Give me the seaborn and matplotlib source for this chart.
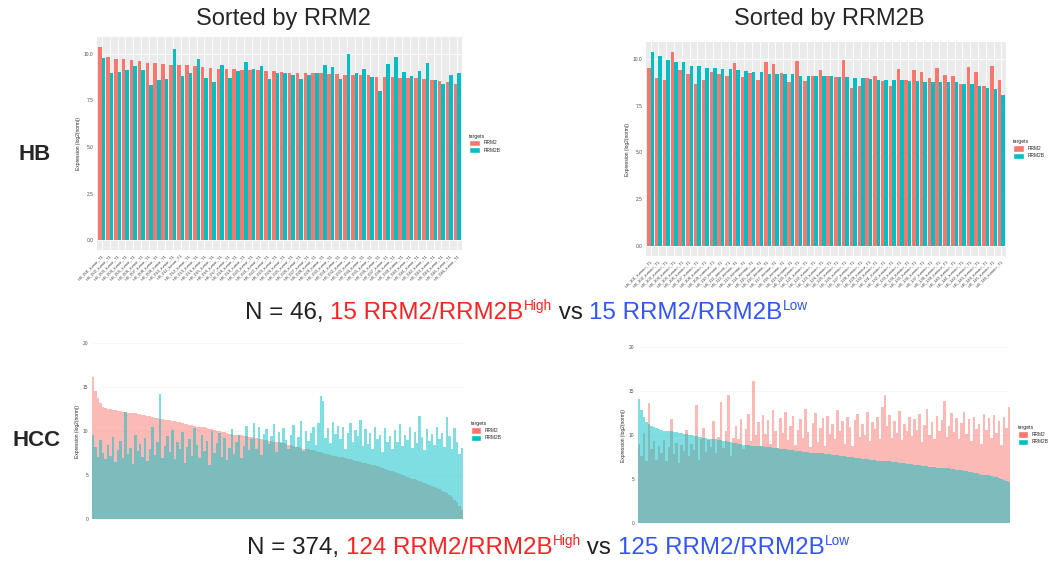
import matplotlib
matplotlib.use('Agg')
import numpy as np
import pandas as pd
import seaborn as sns
from matplotlib import pyplot as plt
from matplotlib.patches import Patch

sns.set_style('white')
plt.rcParams['font.family'] = ['Liberation Sans', 'DejaVu Sans']

W, H = 1053, 565
RED = '#F8766D'
TEAL = '#00BFC4'
TXT_RED = '#FF2222'
TXT_BLUE = '#3355FF'

targets = ['RRM2', 'RRM2B']
hb_ticks = [0, 2.5, 5, 7.5, 10]
hb_ticklabels = ['0.0', '2.5', '5.0', '7.5', '10.0']
hcc_ticks = [0, 5, 10, 15, 20]
hcc_ticklabels = ['0', '5', '10', '15', '20']

# HB cohort (n = 46), sorted by RRM2
hb_samples_a = ['HB_%03d_tumor_T1' % i for i in range(1, 47)]
hb_rrm2_a = [10.37, 9.80, 9.73, 9.70, 9.66, 9.59, 9.49, 9.49, 9.45, 9.41,
             9.38, 9.38, 9.34, 9.27, 9.24, 9.18, 9.17, 9.17, 9.10, 9.10,
             9.10, 9.06, 9.06, 9.02, 8.97, 8.97, 8.95, 8.95, 8.95, 8.92,
             8.90, 8.87, 8.85, 8.85, 8.83, 8.76, 8.76, 8.74, 8.72, 8.69,
             8.67, 8.63, 8.56, 8.53, 8.47, 8.39]
hb_rrm2b_a = [9.77, 8.95, 9.02, 9.13, 9.31, 9.13, 8.33, 8.56, 8.65, 10.25,
              8.78, 8.97, 9.70, 8.69, 8.46, 9.38, 8.69, 9.06, 9.56, 9.17,
              9.34, 8.63, 8.97, 8.97, 8.85, 8.62, 8.87, 8.95, 9.38, 9.29,
              8.65, 10.00, 8.97, 9.17, 8.76, 8.00, 9.45, 9.84, 9.02, 8.81,
              9.08, 9.52, 8.56, 8.39, 8.87, 8.97]

# HB cohort, sorted by RRM2B
hb_samples_b = ['HB_%03d_tumour_T1' % i for i in range(101, 147)]
hb_rrm2_b = [9.50, 8.95, 8.84, 10.37, 9.39, 9.20, 8.67, 8.88, 9.27, 9.20,
             9.06, 9.77, 9.02, 9.23, 8.88, 9.80, 9.70, 9.23, 8.77, 9.86,
             8.79, 9.09, 9.41, 9.06, 9.02, 9.91, 8.45, 8.52, 8.95, 9.09,
             8.79, 8.52, 9.45, 8.88, 9.38, 9.27, 8.95, 9.50, 9.15, 9.06,
             8.67, 9.56, 9.31, 8.56, 9.59, 8.84]
hb_rrm2b_b = [10.36, 10.16, 9.95, 9.84, 9.80, 9.63, 9.59, 9.48, 9.48, 9.45,
              9.45, 9.38, 9.34, 9.27, 9.27, 9.20, 9.20, 9.16, 9.16, 9.09,
              9.09, 9.09, 9.06, 9.06, 9.02, 9.02, 8.99, 8.95, 8.91, 8.88,
              8.88, 8.84, 8.84, 8.81, 8.81, 8.77, 8.77, 8.77, 8.74, 8.74,
              8.67, 8.63, 8.56, 8.43, 8.38, 8.06]

# HCC cohort (every ~2.5th sample), sorted by RRM2
hcc_rrm2_a = [16.1, 14.6, 13.8, 13.2, 12.7, 12.6, 12.5, 12.5, 12.4, 12.4,
              12.3, 12.3, 12.2, 12.2, 12.1, 12.1, 12.0, 12.0, 11.9, 11.9,
              11.8, 11.8, 11.7, 11.7, 11.6, 11.5, 11.5, 11.4, 11.4, 11.3,
              11.3, 11.2, 11.1, 11.1, 11.0, 11.0, 10.9, 10.8, 10.8, 10.7,
              10.7, 10.6, 10.5, 10.5, 10.4, 10.4, 10.3, 10.2, 10.2, 10.1,
              10.0, 10.0, 9.9, 9.9, 9.8, 9.7, 9.7, 9.6, 9.6, 9.5,
              9.5, 9.4, 9.4, 9.3, 9.3, 9.2, 9.2, 9.1, 9.1, 9.0,
              9.0, 8.9, 8.9, 8.8, 8.7, 8.7, 8.6, 8.6, 8.5, 8.4,
              8.4, 8.3, 8.2, 8.2, 8.1, 8.0, 8.0, 7.9, 7.8, 7.8,
              7.7, 7.6, 7.6, 7.5, 7.4, 7.4, 7.3, 7.2, 7.2, 7.1,
              7.0, 7.0, 6.9, 6.8, 6.8, 6.7, 6.6, 6.6, 6.5, 6.4,
              6.4, 6.3, 6.2, 6.1, 6.1, 6.0, 5.9, 5.8, 5.7, 5.6,
              5.5, 5.4, 5.3, 5.2, 5.1, 5.0, 4.9, 4.8, 4.7, 4.6,
              4.5, 4.4, 4.3, 4.2, 4.1, 4.0, 3.9, 3.8, 3.6, 3.5,
              3.4, 3.2, 3.1, 2.9, 2.7, 2.5, 2.2, 1.9, 1.5, 1.0]
hcc_rrm2b_a = [9.5, 8.2, 7.0, 9.0, 7.5, 6.8, 8.4, 7.2, 9.3, 6.5,
               7.8, 8.9, 6.9, 12.2, 7.4, 8.1, 6.2, 9.6, 7.7, 8.5,
               7.1, 9.2, 6.6, 8.0, 10.4, 7.3, 8.8, 14.2, 6.9, 8.3,
               9.4, 7.6, 10.1, 6.8, 8.7, 7.9, 9.9, 6.4, 8.2, 9.1,
               7.2, 10.3, 8.4, 6.9, 9.6, 7.7, 8.9, 6.1, 10.0, 7.5,
               8.6, 9.8, 7.0, 9.2, 6.7, 8.1, 10.2, 7.4, 8.8, 9.5,
               6.9, 8.3, 10.6, 7.8, 9.1, 10.9, 8.0, 10.4, 7.3, 9.7,
               10.2, 8.5, 9.4, 10.8, 7.6, 9.9, 8.8, 10.3, 9.0, 7.9,
               9.6, 10.7, 8.2, 9.3, 11.1, 7.7, 10.0, 8.9, 9.8, 10.5,
               8.4, 10.9, 14.0, 13.4, 9.2, 10.3, 8.6, 11.0, 9.7, 10.6,
               9.1, 10.4, 7.9, 9.8, 10.9, 8.7, 10.1, 9.4, 11.2, 8.3,
               10.2, 8.5, 9.8, 8.0, 10.5, 9.1, 9.5, 7.6, 10.3, 8.8,
               9.4, 7.9, 10.1, 8.7, 10.8, 8.3, 9.6, 9.0, 10.4, 8.1,
               9.9, 8.6, 11.7, 9.3, 7.8, 10.2, 8.9, 9.7, 8.4, 10.5,
               9.1, 9.8, 8.2, 11.6, 9.4, 8.0, 10.3, 8.7, 7.4, 8.1]

# HCC cohort, sorted by RRM2B
hcc_rrm2_b = [9.0, 7.6, 10.2, 7.1, 13.6, 8.4, 9.3, 7.2, 8.8, 7.9,
              9.4, 7.0, 8.6, 11.8, 7.8, 9.1, 6.8, 8.9, 8.2, 10.6,
              7.6, 9.0, 8.3, 13.4, 7.2, 9.6, 10.8, 8.1, 9.4, 8.6,
              11.6, 7.9, 9.8, 13.7, 8.5, 10.4, 14.5, 7.6, 9.7, 11.0,
              9.6, 11.8, 8.4, 10.7, 12.4, 9.3, 16.1, 10.0, 11.5, 8.7,
              12.3, 10.1, 11.7, 9.0, 12.8, 10.5, 8.5, 11.9, 10.2, 12.6,
              9.4, 11.0, 12.2, 8.9, 10.6, 11.8, 9.7, 12.9, 10.3, 8.6,
              11.4, 12.5, 9.2, 10.8, 11.9, 8.8, 12.2, 10.1, 11.3, 9.5,
              12.8, 10.4, 11.6, 9.0, 12.1, 10.9, 8.7, 11.7, 12.4, 9.8,
              11.2, 10.0, 12.6, 9.3, 11.5, 10.7, 12.0, 9.6, 13.2, 14.5,
              11.0, 12.3, 9.7, 11.6, 10.2, 12.7, 9.4, 11.3, 10.5, 12.1,
              9.9, 11.8, 10.6, 12.4, 9.2, 11.1, 12.9, 10.0, 11.5, 9.6,
              12.2, 10.4, 11.7, 13.9, 9.8, 11.0, 12.5, 10.3, 11.9, 9.5,
              11.4, 12.6, 10.1, 11.8, 9.3, 12.1, 10.7, 11.2, 9.0, 12.4,
              10.6, 11.9, 9.7, 12.3, 10.2, 11.6, 8.9, 12.0, 10.8, 13.2]
hcc_rrm2b_b = [14.1, 12.8, 12.0, 11.5, 11.2, 11.0, 10.9, 10.8, 10.7, 10.6,
               10.5, 10.5, 10.4, 10.4, 10.3, 10.3, 10.2, 10.2, 10.1, 10.1,
               10.0, 10.0, 9.9, 9.9, 9.8, 9.8, 9.7, 9.7, 9.6, 9.6,
               9.5, 9.5, 9.4, 9.4, 9.3, 9.3, 9.2, 9.2, 9.1, 9.1,
               9.0, 9.0, 8.9, 8.9, 8.9, 8.8, 8.8, 8.8, 8.7, 8.7,
               8.7, 8.6, 8.6, 8.6, 8.5, 8.5, 8.5, 8.4, 8.4, 8.4,
               8.3, 8.3, 8.3, 8.2, 8.2, 8.2, 8.1, 8.1, 8.1, 8.0,
               8.0, 8.0, 7.9, 7.9, 7.9, 7.8, 7.8, 7.8, 7.7, 7.7,
               7.7, 7.6, 7.6, 7.6, 7.5, 7.5, 7.5, 7.4, 7.4, 7.4,
               7.3, 7.3, 7.3, 7.2, 7.2, 7.2, 7.1, 7.1, 7.1, 7.0,
               7.0, 7.0, 6.9, 6.9, 6.9, 6.8, 6.8, 6.8, 6.7, 6.7,
               6.7, 6.6, 6.6, 6.6, 6.5, 6.5, 6.5, 6.4, 6.4, 6.4,
               6.3, 6.3, 6.3, 6.2, 6.2, 6.2, 6.1, 6.1, 6.0, 6.0,
               6.0, 5.9, 5.9, 5.8, 5.8, 5.7, 5.7, 5.6, 5.5, 5.5,
               5.4, 5.4, 5.3, 5.2, 5.2, 5.1, 5.0, 4.9, 4.8, 4.7]


def px_axes(fig, x0, y0, x1, y1):
    # panel given in pixel coords of the 1053x565 picture
    return fig.add_axes([x0 / W, 1 - y1 / H, (x1 - x0) / W, (y1 - y0) / H])


def add_legend(ax):
    handles = [Patch(facecolor=RED, label='RRM2'), Patch(facecolor=TEAL, label='RRM2B')]
    ax.legend(handles=handles, title='targets', loc='center left',
              bbox_to_anchor=(1.015, 0.5), frameon=False, fontsize=3.5,
              title_fontsize=3.8, handlelength=2.2, handleheight=1.6,
              borderaxespad=0, labelspacing=0.25, alignment='left')


def style_axis(ax):
    for s in ax.spines.values():
        s.set_visible(False)
    ax.tick_params(axis='both', length=1.5, width=0.5, color='#333333',
                   labelsize=3.5, labelcolor='#4D4D4D', pad=1)
    ax.set_ylabel('Expression (log2(norm))', fontsize=3.5, labelpad=2)
    ax.set_xlabel('')


def draw_hb(ax, samples, rrm2, rrm2b):
    df = pd.DataFrame({'sample': samples * 2,
                       'targets': ['RRM2'] * len(samples) + ['RRM2B'] * len(samples),
                       'value': rrm2 + rrm2b})
    sns.barplot(data=df, x='sample', y='value', hue='targets', order=samples,
                hue_order=targets, palette=[RED, TEAL], width=0.9, saturation=1,
                linewidth=0, errorbar=None, legend=False, ax=ax)
    ax.set_facecolor('#EBEBEB')
    ax.grid(True, color='white', linewidth=0.6)
    ax.set_axisbelow(True)
    ax.set_ylim(-0.52, 10.89)
    ax.set_xlim(-0.6, len(samples) - 0.4)
    ax.set_yticks(hb_ticks)
    ax.set_yticklabels(hb_ticklabels)
    style_axis(ax)
    ax.tick_params(axis='x', labelsize=3.0, labelcolor='#3A3A3A')
    plt.setp(ax.get_xticklabels(), rotation=45, ha='right', rotation_mode='anchor')
    add_legend(ax)


def draw_hcc(ax, rrm2, rrm2b):
    idx = list(range(len(rrm2)))
    sns.barplot(x=idx, y=rrm2, color=RED, alpha=0.5, width=1.0, saturation=1,
                linewidth=0, errorbar=None, ax=ax)
    sns.barplot(x=idx, y=rrm2b, color=TEAL, alpha=0.5, width=1.0, saturation=1,
                linewidth=0, errorbar=None, ax=ax)
    ax.set_facecolor('white')
    ax.grid(True, color='#F4F4F4', linewidth=0.5)
    ax.set_axisbelow(True)
    ax.set_ylim(0, 20)
    ax.set_xlim(-0.5, len(rrm2) - 0.5)
    ax.set_yticks(hcc_ticks)
    ax.set_yticklabels(hcc_ticklabels)
    ax.set_xticks([])
    style_axis(ax)
    add_legend(ax)


def rich_line(fig, x_px, y_px, pieces):
    renderer = fig.canvas.get_renderer()
    x = x_px
    for text, color, size, rise in pieces:
        t = fig.text(x / W, 1 - (y_px - rise) / H, text, color=color,
                     fontsize=size, ha='left', va='baseline')
        x += t.get_window_extent(renderer).width


fig = plt.figure(figsize=(W / 100, H / 100), dpi=100)

ax1 = px_axes(fig, 97, 37, 462, 250)
draw_hb(ax1, hb_samples_a, hb_rrm2_a, hb_rrm2b_a)
ax2 = px_axes(fig, 646, 42, 1006, 256)
draw_hb(ax2, hb_samples_b, hb_rrm2_b, hb_rrm2b_b)
ax3 = px_axes(fig, 92, 343, 463, 519)
draw_hcc(ax3, hcc_rrm2_a, hcc_rrm2b_a)
ax4 = px_axes(fig, 638, 347, 1010, 523)
draw_hcc(ax4, hcc_rrm2_b, hcc_rrm2b_b)

fig.text(283 / W, 1 - 19 / H, 'Sorted by RRM2', fontsize=17, ha='center', va='center')
fig.text(829 / W, 1 - 19 / H, 'Sorted by RRM2B', fontsize=17, ha='center', va='center')
fig.text(35 / W, 1 - 155 / H, 'HB', fontsize=16, fontweight='bold', ha='center', va='center')
fig.text(37 / W, 1 - 440 / H, 'HCC', fontsize=16, fontweight='bold', ha='center', va='center')

rich_line(fig, 245, 319, [('N = 46, ', '#222222', 17.4, 0),
                          ('15 RRM2/RRM2B', TXT_RED, 17.4, 0),
                          ('High', TXT_RED, 9.8, 9),
                          (' vs ', '#222222', 17.4, 0),
                          ('15 RRM2/RRM2B', TXT_BLUE, 17.4, 0),
                          ('Low', TXT_BLUE, 9.8, 9)])
rich_line(fig, 247, 554, [('N = 374, ', '#222222', 17.4, 0),
                          ('124 RRM2/RRM2B', TXT_RED, 17.4, 0),
                          ('High', TXT_RED, 9.8, 9),
                          (' vs ', '#222222', 17.4, 0),
                          ('125 RRM2/RRM2B', TXT_BLUE, 17.4, 0),
                          ('Low', TXT_BLUE, 9.8, 9)])

fig.savefig('out.png', dpi=100)
